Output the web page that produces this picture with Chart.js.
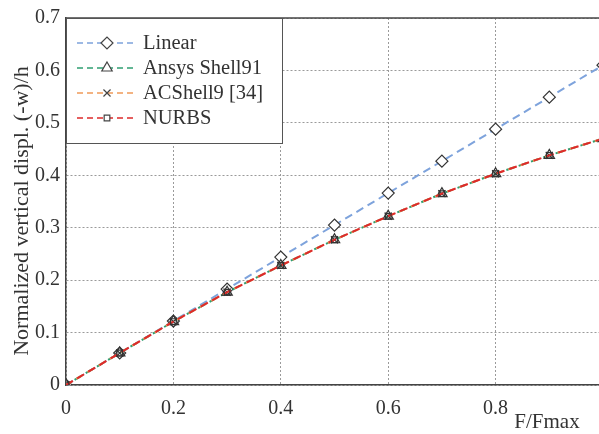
<!DOCTYPE html>
<html>
<head>
<meta charset="utf-8">
<script src="https://cdn.jsdelivr.net/npm/chart.js@4"></script>
<style>
  html, body { margin: 0; padding: 0; background: #fff; overflow: hidden; }
  #wrap { width: 620px; height: 434px; }
</style>
</head>
<body>
<div id="wrap"><canvas id="chart" width="620" height="434"></canvas></div>
<script>
const loadRatio = [0, 0.1, 0.2, 0.3, 0.4, 0.5, 0.6, 0.7, 0.8, 0.9, 1.0];
const linearDispl = [0, 0.061, 0.122, 0.183, 0.244, 0.305, 0.366, 0.427, 0.488, 0.549, 0.61];
const ansysDispl = [0, 0.061, 0.121, 0.177, 0.228, 0.277, 0.322, 0.365, 0.403, 0.438, 0.47];
const acshellDispl = [0, 0.061, 0.121, 0.177, 0.228, 0.277, 0.322, 0.365, 0.403, 0.438, 0.47];
const nurbsDispl = [0, 0.061, 0.121, 0.177, 0.228, 0.277, 0.322, 0.365, 0.403, 0.438, 0.47];
const xTicks = [0, 0.2, 0.4, 0.6, 0.8, 1];
const yTicks = [0, 0.1, 0.2, 0.3, 0.4, 0.5, 0.6, 0.7];

const serif = "'Liberation Serif', 'DejaVu Serif', serif";
const markerColor = "#333";

const series = [
  { label: "Linear", values: linearDispl, color: "#7ea3dc", style: "rectRot", radius: 6, fill: "#fff", dashOffset: 0, order: 3 },
  { label: "Ansys Shell91", values: ansysDispl, color: "#2f9e72", style: "triangle", radius: 6, fill: "rgba(255,255,255,0)", dashOffset: 3, order: 2 },
  { label: "ACShell9 [34]", values: acshellDispl, color: "#ef9a5a", style: "crossRot", radius: 5, fill: "rgba(255,255,255,0)", dashOffset: 1, order: 1 },
  { label: "NURBS", values: nurbsDispl, color: "#dd2a2a", style: "rect", radius: 4, fill: "rgba(255,255,255,0)", dashOffset: 0, order: 0 },
];

function toPoints(values) {
  return loadRatio.map((x, i) => ({ x, y: values[i] }));
}

const overlay = {
  id: "overlay",
  afterDraw(chart) {
    const { ctx, chartArea } = chart;
    ctx.save();
    // top frame line
    ctx.strokeStyle = "#444";
    ctx.lineWidth = 1.5;
    ctx.beginPath();
    ctx.moveTo(chartArea.left, chartArea.top);
    ctx.lineTo(chartArea.right, chartArea.top);
    ctx.stroke();

    // legend box
    const bx = chartArea.left, by = chartArea.top, bw = 216, bh = 125;
    ctx.fillStyle = "#fff";
    ctx.fillRect(bx, by, bw, bh);
    ctx.strokeStyle = "#555";
    ctx.lineWidth = 1;
    ctx.strokeRect(bx + 0.5, by + 0.5, bw, bh);

    ctx.font = "20.5px " + serif;
    ctx.textBaseline = "middle";
    ctx.textAlign = "left";
    series.forEach((s, i) => {
      const y = by + 25 + i * 25;
      ctx.strokeStyle = s.color;
      ctx.lineWidth = 1.5;
      ctx.setLineDash([6, 4]);
      ctx.beginPath();
      ctx.moveTo(bx + 11, y);
      ctx.lineTo(bx + 68, y);
      ctx.stroke();
      ctx.setLineDash([]);
      ctx.fillStyle = "#fff";
      ctx.strokeStyle = "#444";
      ctx.lineWidth = 1.2;
      Chart.helpers.drawPoint(ctx, {
        pointStyle: s.style,
        radius: s.radius,
        borderWidth: 1.2,
      }, bx + 41, y);
      ctx.fillStyle = "#333";
      ctx.fillText(s.label, bx + 77, y + 1);
    });

    // axis titles
    ctx.fillStyle = "#333";
    ctx.font = "21px " + serif;
    ctx.textAlign = "center";
    ctx.fillText("F/Fmax", 547, 422);
    ctx.font = "22px " + serif;
    ctx.translate(22, 211);
    ctx.rotate(-Math.PI / 2);
    ctx.fillText("Normalized vertical displ. (-w)/h", 0, 0);
    ctx.restore();
  },
};

new Chart(document.getElementById("chart"), {
  type: "line",
  data: {
    datasets: series.map((s) => ({
      label: s.label,
      data: toPoints(s.values),
      borderColor: s.color,
      borderWidth: 2,
      borderDash: [8, 5],
      borderDashOffset: s.dashOffset,
      pointStyle: s.style,
      pointRadius: s.radius,
      pointBorderColor: markerColor,
      pointBackgroundColor: s.fill,
      pointBorderWidth: 1.2,
      fill: false,
      tension: 0,
      order: s.order,
    })),
  },
  options: {
    responsive: false,
    animation: false,
    layout: { padding: { top: 17, right: 7, left: 0, bottom: 0 } },
    plugins: { legend: { display: false }, tooltip: { enabled: false } },
    scales: {
      x: {
        type: "linear",
        min: 0,
        max: 1,
        afterFit: (scale) => { scale.height = 49; },
        afterBuildTicks: (scale) => { scale.ticks = xTicks.map((v) => ({ value: v })); },
        ticks: {
          padding: 12,
          color: "#333",
          font: { family: serif, size: 20 },
          maxRotation: 0,
          callback: (v) => String(v),
        },
        grid: { color: "#9a9a9a", lineWidth: 1, drawTicks: false },
        border: { display: true, color: "#444", width: 1.5, dash: [2, 2] },
      },
      y: {
        min: 0,
        max: 0.7,
        afterFit: (scale) => { scale.width = 66; },
        afterBuildTicks: (scale) => { scale.ticks = yTicks.map((v) => ({ value: v })); },
        ticks: {
          padding: 6,
          color: "#333",
          font: { family: serif, size: 20 },
          callback: (v) => String(Math.round(v * 10) / 10),
        },
        grid: { color: "#9a9a9a", lineWidth: 1, drawTicks: false },
        border: { display: true, color: "#444", width: 1.5, dash: [2, 2] },
      },
    },
  },
  plugins: [overlay],
});
</script>
</body>
</html>
